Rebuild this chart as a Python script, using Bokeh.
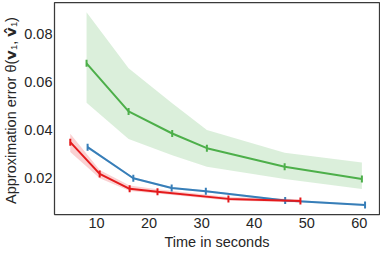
import numpy as np
from bokeh.plotting import figure
from bokeh.models import Range1d, FixedTicker
from bokeh.embed import file_html
from bokeh.resources import INLINE

# ---- data ----
red_t = [5.0, 10.6, 16.3, 21.6, 35.1, 48.8]
red_y = [0.0348, 0.0216, 0.0154, 0.0142, 0.0112, 0.0103]
red_lo = [0.0307, 0.0198, 0.0145, 0.0134, 0.0105, 0.0097]
red_hi = [0.0383, 0.0232, 0.0168, 0.0152, 0.0120, 0.0110]

blue_t = [8.3, 17.0, 24.3, 30.8, 45.9, 61.1]
blue_y = [0.0327, 0.0198, 0.0157, 0.0144, 0.0105, 0.0087]
blue_lo = [0.0322, 0.0194, 0.0153, 0.0140, 0.0101, 0.0083]
blue_hi = [0.0332, 0.0202, 0.0161, 0.0148, 0.0109, 0.0091]

green_t = [8.1, 16.1, 24.4, 31.0, 45.8, 60.5]
green_y = [0.0676, 0.0476, 0.0384, 0.0323, 0.0246, 0.0195]
green_lo = [0.0512, 0.0361, 0.0293, 0.0246, 0.0195, 0.0153]
green_hi = [0.0888, 0.0655, 0.0510, 0.0399, 0.0304, 0.0263]

x_ticks = [10, 20, 30, 40, 50, 60]
y_ticks = [0.02, 0.04, 0.06, 0.08]

RED = "#e41a1c"
BLUE = "#377eb8"
GREEN = "#4daf4a"
FONT = "Liberation Sans"
TXT = "#262626"

p = figure(output_backend="svg", toolbar_location=None,
           frame_width=325, frame_height=212,
           min_border_left=49, min_border_right=1,
           min_border_top=2, min_border_bottom=2,
           x_range=Range1d(2.0, 63.85), y_range=Range1d(0.0047, 0.0929))

p.background_fill_color = "white"
p.border_fill_color = "white"
p.outline_line_color = "#3a3a3a"
p.outline_line_width = 1.25
p.xgrid.visible = False
p.ygrid.visible = False

for series in [(GREEN, green_t, green_y, green_lo, green_hi),
               (BLUE, blue_t, blue_y, blue_lo, blue_hi),
               (RED, red_t, red_y, red_lo, red_hi)]:
    c, t, y, lo, hi = series
    p.varea(x=t, y1=lo, y2=hi, fill_color=c, fill_alpha=0.2)

for series in [(GREEN, green_t, green_y), (BLUE, blue_t, blue_y), (RED, red_t, red_y)]:
    c, t, y = series
    p.line(t, y, line_color=c, line_width=2)
    p.scatter(t, y, marker="dash", angle=np.pi / 2, size=7, line_color=c, line_width=2)

p.xaxis.ticker = FixedTicker(ticks=x_ticks)
p.yaxis.ticker = FixedTicker(ticks=y_ticks)
p.xaxis.major_label_overrides = {t: str(t) for t in x_ticks}
p.yaxis.major_label_overrides = {t: f"{t:.2f}" for t in y_ticks}

for ax in (p.xaxis[0], p.yaxis[0]):
    ax.axis_line_color = None
    ax.major_tick_line_color = None
    ax.minor_tick_line_color = None
    ax.major_tick_out = 0
    ax.major_tick_in = 0
    ax.minor_tick_out = 0
    ax.major_label_text_font = FONT
    ax.major_label_text_font_size = "14.5px"
    ax.major_label_text_color = TXT
    ax.axis_label_text_font = FONT
    ax.axis_label_text_font_size = "14.5px"
    ax.axis_label_text_font_style = "normal"
    ax.axis_label_text_color = TXT

p.xaxis.axis_label = "Time in seconds"
p.xaxis.major_label_standoff = 3
p.xaxis.axis_label_standoff = 3
p.yaxis.axis_label = "Approximation error  \u03b8(\U0001D603\u2081, \U0001D603\u0302\u2081)"
p.yaxis.major_label_standoff = 2
p.yaxis.axis_label_standoff = 2

open("out.html", "w").write(file_html(p, INLINE))
